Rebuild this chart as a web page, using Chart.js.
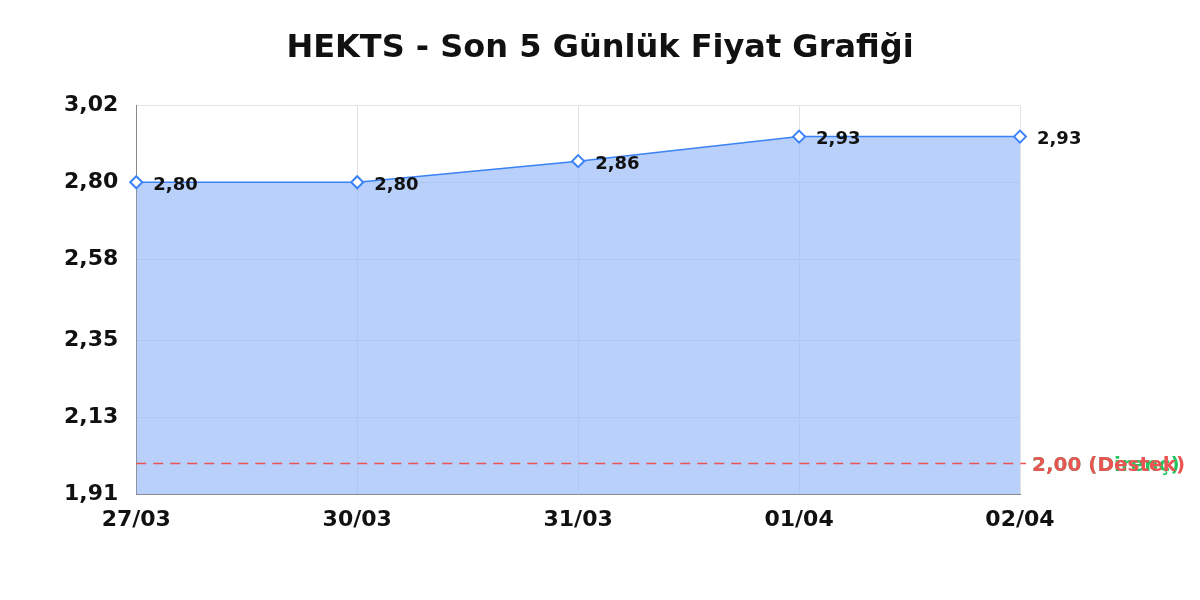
<!DOCTYPE html>
<html>
<head>
<meta charset="utf-8">
<script src="https://cdn.jsdelivr.net/npm/chart.js@4/dist/chart.umd.min.js"></script>
<style>
  html, body { margin: 0; padding: 0; background: #fff; }
  #wrap { width: 1200px; height: 600px; }
</style>
</head>
<body>
<div id="wrap"><canvas id="grafik"></canvas></div>
<script>
const gunler = ['27/03', '30/03', '31/03', '01/04', '02/04'];
const fiyatlar = [2.80, 2.80, 2.86, 2.93, 2.93];
const yEksenDegerleri = [1.91, 2.13, 2.35, 2.58, 2.80, 3.02];
const destek = 2.00;
const direnc = 2.00;
const baslik = 'HEKTS - Son 5 Günlük Fiyat Grafiği';

const virgullu = v => v.toFixed(2).replace('.', ',');

// başlık: tuvalin ortasına
const baslikYazisi = {
    id: 'baslikYazisi',
    afterDraw(chart) {
        const ctx = chart.ctx;
        ctx.save();
        ctx.font = 'bold 32px "DejaVu Sans"';
        ctx.fillStyle = '#111';
        ctx.textAlign = 'center';
        ctx.textBaseline = 'middle';
        ctx.fillText(baslik, chart.width / 2, 49);
        ctx.restore();
    }
};

// noktaların sağına değer yazısı
const degerYazisi = {
    id: 'degerYazisi',
    afterDatasetsDraw(chart) {
        const ctx = chart.ctx;
        const meta = chart.getDatasetMeta(0);
        ctx.save();
        ctx.font = 'bold 18px "DejaVu Sans"';
        ctx.fillStyle = '#111';
        ctx.textAlign = 'left';
        ctx.textBaseline = 'middle';
        meta.data.forEach((nokta, i) => {
            ctx.fillText(virgullu(fiyatlar[i]), nokta.x + 17, nokta.y + 3);
        });
        ctx.restore();
    }
};

// destek / direnç etiketleri (ikisi de 2,00'da, üst üste biniyor)
const seviyeCizgileri = {
    id: 'seviyeCizgileri',
    afterDatasetsDraw(chart) {
        const ctx = chart.ctx;
        const alan = chart.chartArea;
        const y = chart.scales.y;
        const seviyeler = [
            { deger: direnc, renk: '#22c55e', yazi: ' (Direnç)', cizgi: false },
            { deger: destek, renk: '#ec5454', yazi: ' (Destek)', cizgi: true }
        ];
        ctx.save();
        seviyeler.forEach(s => {
            const py = Math.round(y.getPixelForValue(s.deger)) + 0.5;
            if (s.cizgi) {
                ctx.strokeStyle = s.renk;
                ctx.lineWidth = 1.6;
                ctx.setLineDash([10, 7]);
                ctx.beginPath();
                ctx.moveTo(alan.left, py);
                ctx.lineTo(alan.right + 6, py);
                ctx.stroke();
                ctx.setLineDash([]);
            }
            ctx.font = 'bold 20px "DejaVu Sans"';
            ctx.fillStyle = s.renk;
            ctx.textAlign = 'left';
            ctx.textBaseline = 'middle';
            ctx.fillText(virgullu(s.deger) + s.yazi, alan.right + 12, py + 2);
        });
        ctx.restore();
    }
};

new Chart(document.getElementById('grafik').getContext('2d'), {
    type: 'line',
    data: {
        labels: gunler,
        datasets: [{
            data: fiyatlar,
            borderColor: '#3b82f6',
            backgroundColor: 'rgba(147, 183, 248, 0.66)',
            borderWidth: 1.5,
            fill: 'start',
            tension: 0,
            pointStyle: 'rectRot',
            pointRadius: 6,
            pointBorderWidth: 2,
            pointBackgroundColor: '#fff',
            pointBorderColor: '#3b82f6'
        }]
    },
    options: {
        responsive: true,
        maintainAspectRatio: false,
        animation: false,
        layout: { padding: { top: 105, right: 180, bottom: 55, left: 46 } },
        plugins: {
            legend: { display: false },
            tooltip: { enabled: false },
            title: { display: false }
        },
        scales: {
            x: {
                offset: false,
                grid: { color: '#e3e3e3', drawTicks: false },
                border: { color: '#888' },
                ticks: {
                    color: '#111',
                    padding: 12,
                    maxRotation: 0,
                    font: { family: '"DejaVu Sans"', size: 22, weight: 'bold' }
                }
            },
            y: {
                min: yEksenDegerleri[0],
                max: yEksenDegerleri[yEksenDegerleri.length - 1],
                afterBuildTicks: ax => { ax.ticks = yEksenDegerleri.map(v => ({ value: v })); },
                grid: { color: '#e3e3e3', drawTicks: false },
                border: { color: '#888' },
                ticks: {
                    color: '#111',
                    padding: 18,
                    callback: v => virgullu(v),
                    font: { family: '"DejaVu Sans"', size: 22, weight: 'bold' }
                }
            }
        }
    },
    plugins: [degerYazisi, seviyeCizgileri, baslikYazisi]
});
</script>
</body>
</html>
